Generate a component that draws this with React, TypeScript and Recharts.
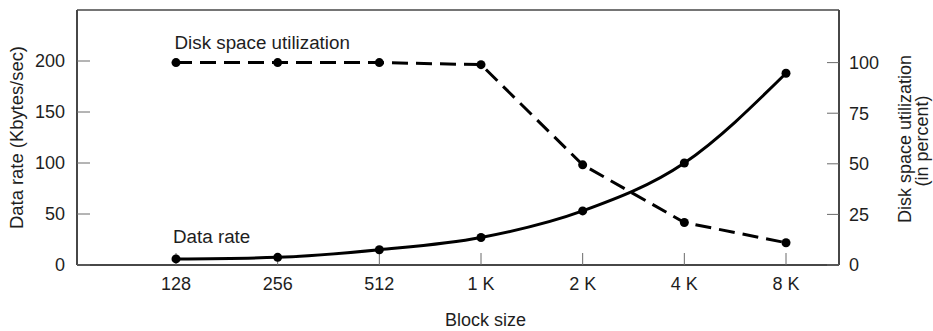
import React from 'react';
import { LineChart, Line, XAxis, YAxis, LabelList, ReferenceLine } from 'recharts';

const categories = ['128', '256', '512', '1 K', '2 K', '4 K', '8 K'];
const dataRate = [6, 7.5, 15, 27, 53, 100, 188];
const diskUtil = [100, 100, 100, 99, 49.5, 21, 11];
const leftTicks = [0, 50, 100, 150, 200];
const rightTicks = [0, 25, 50, 75, 100];
const leftMax = 250;

const seriesNames = { rate: 'Data rate', disk: 'Disk space utilization' };
const axisTitles = {
  x: 'Block size',
  left: 'Data rate (Kbytes/sec)',
  right1: 'Disk space utilization',
  right2: '(in percent)',
};

const data = categories.map((c, i) => ({ block: c, rate: dataRate[i], disk: diskUtil[i] }));

const FONT = '"Liberation Sans", Arial, Helvetica, sans-serif';
const TEXT = '#1e1e1e';
const FRAME = '#474747';
const TICKC = '#6a6a6a';

const makeSeriesLabel = (text: string, dx: number, dy: number) => (props: any) => {
  const { x, y, index } = props;
  if (index !== 0) return null;
  return (
    <text x={x + dx} y={y + dy} fill={TEXT} fontSize={18.8} fontFamily={FONT} textAnchor="start">
      {text}
    </text>
  );
};

const LeftTitle = (props: any) => {
  const vb = props.viewBox;
  const x = vb.x + 5.5;
  const y = vb.y + vb.height / 2;
  return (
    <text x={x} y={y} transform={`rotate(-90, ${x}, ${y})`} textAnchor="middle" fill={TEXT} fontSize={18.4} fontFamily={FONT}>
      {axisTitles.left}
    </text>
  );
};

const RightTitle = (props: any) => {
  const vb = props.viewBox;
  const x1 = vb.x + 71.5;
  const x2 = vb.x + 89;
  const y1 = vb.y + vb.height / 2 + 1.5;
  const y2 = vb.y + vb.height / 2 + 3.5;
  return (
    <g>
      <text x={x1} y={y1} transform={`rotate(-90, ${x1}, ${y1})`} textAnchor="middle" fill={TEXT} fontSize={18} fontFamily={FONT}>
        {axisTitles.right1}
      </text>
      <text x={x2} y={y2} transform={`rotate(-90, ${x2}, ${y2})`} textAnchor="middle" fill={TEXT} fontSize={18} fontFamily={FONT}>
        {axisTitles.right2}
      </text>
    </g>
  );
};

const BottomTitle = (props: any) => {
  const vb = props.viewBox;
  const x = vb.x + vb.width / 2 + 27.5;
  const y = vb.y + 61;
  return (
    <text x={x} y={y} textAnchor="middle" fill={TEXT} fontSize={18} fontFamily={FONT}>
      {axisTitles.x}
    </text>
  );
};

export default function App() {
  return (
    <div style={{ position: 'absolute', left: 0, top: 0, width: 933, height: 331, background: '#fff' }}>
      <LineChart width={933} height={331} data={data} margin={{ top: 10, right: 34, bottom: 26, left: 17 }}>
        <XAxis
          dataKey="block"
          scale="point"
          height={40}
          padding={{ left: 99, right: 53 }}
          axisLine={{ stroke: FRAME, strokeWidth: 2 }}
          tickLine={{ stroke: TICKC, strokeWidth: 1 }}
          tickSize={-12}
          tickMargin={24}
          tick={{ fill: TEXT, fontSize: 18, fontFamily: FONT }}
          label={<BottomTitle />}
        />
        <YAxis
          yAxisId="left"
          orientation="left"
          width={60}
          domain={[0, leftMax]}
          ticks={leftTicks}
          interval={0}
          axisLine={{ stroke: FRAME, strokeWidth: 2 }}
          tickLine={{ stroke: TICKC, strokeWidth: 1 }}
          tickSize={-13}
          tickMargin={25}
          tick={{ fill: TEXT, fontSize: 18, fontFamily: FONT }}
          label={<LeftTitle />}
        />
        <YAxis
          yAxisId="right"
          orientation="right"
          width={60}
          domain={[0, 126]}
          ticks={rightTicks}
          interval={0}
          axisLine={{ stroke: FRAME, strokeWidth: 2 }}
          tickLine={{ stroke: TICKC, strokeWidth: 1 }}
          tickSize={-12}
          tickMargin={22}
          tick={{ fill: TEXT, fontSize: 18, fontFamily: FONT }}
          label={<RightTitle />}
        />
        <ReferenceLine yAxisId="left" y={leftMax} stroke={FRAME} strokeWidth={1.5} />
        <Line
          yAxisId="right"
          dataKey="disk"
          type="linear"
          stroke="#000"
          strokeWidth={3}
          strokeDasharray="16 8"
          dot={{ r: 4.5, fill: '#000', stroke: '#000', strokeWidth: 0 }}
          activeDot={false}
          isAnimationActive={false}
        >
          <LabelList dataKey="disk" content={makeSeriesLabel(seriesNames.disk, -1.5, -13.5)} />
        </Line>
        <Line
          yAxisId="left"
          dataKey="rate"
          type="monotone"
          stroke="#000"
          strokeWidth={3}
          dot={{ r: 4.5, fill: '#000', stroke: '#000', strokeWidth: 0 }}
          activeDot={false}
          isAnimationActive={false}
        >
          <LabelList dataKey="rate" content={makeSeriesLabel(seriesNames.rate, -3, -15.5)} />
        </Line>
      </LineChart>
    </div>
  );
}
